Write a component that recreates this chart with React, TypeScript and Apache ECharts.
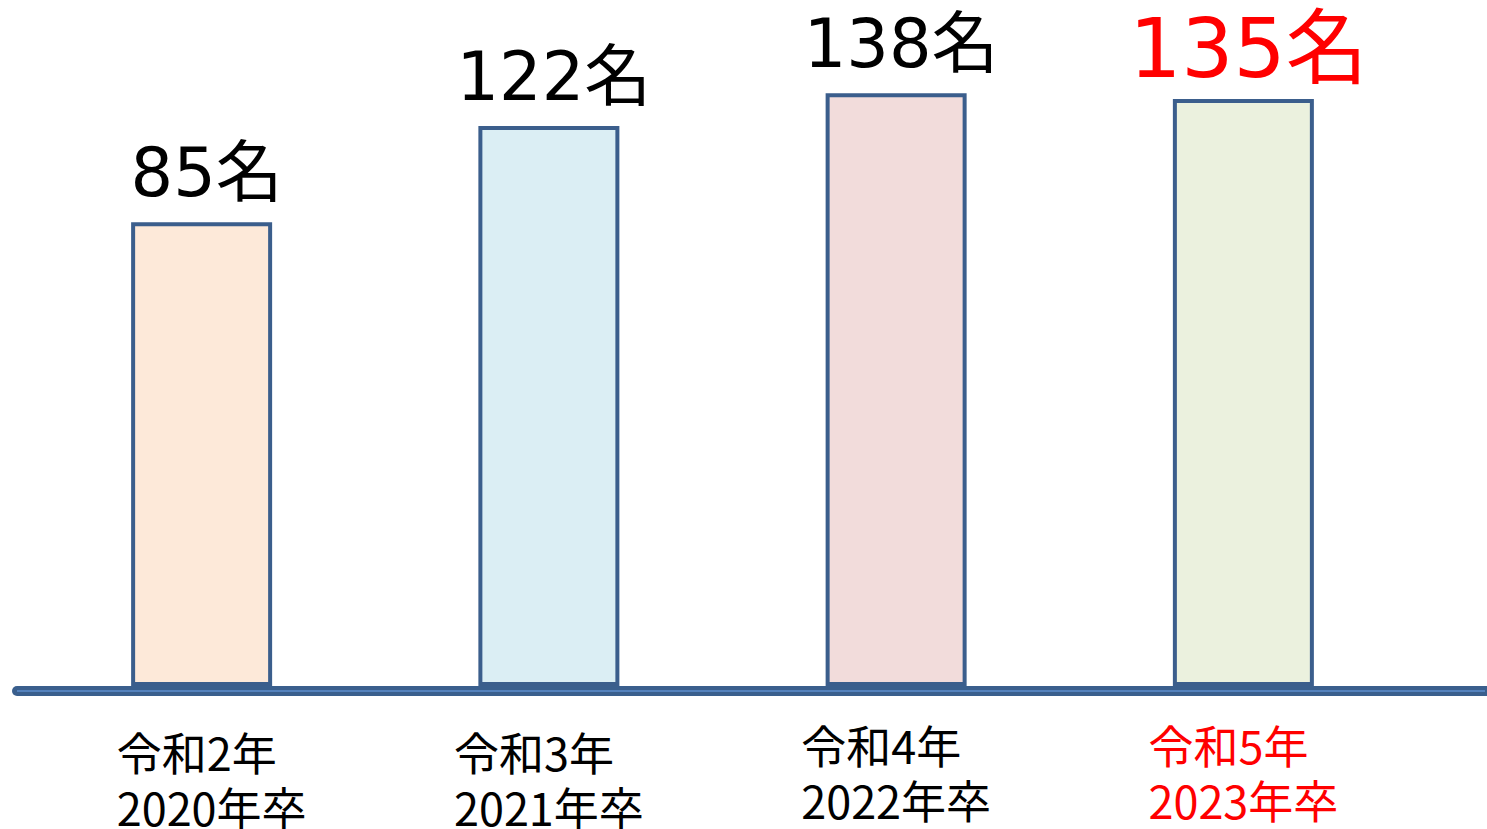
import { useEffect, useRef } from 'react';
import * as echarts from 'echarts';

// Graduating cohorts (Reiwa year / Western year) and number of graduates
const eraLabels = ['令和2年', '令和3年', '令和4年', '令和5年'];
const classLabels = ['2020年卒', '2021年卒', '2022年卒', '2023年卒'];
const graduates = [85, 122, 138, 135];
const unit = '名';

// Pastel fill for each cohort's bar; the latest cohort is highlighted in red text
const barFills = ['#FDE9D9', '#DBEEF4', '#F2DCDB', '#EBF1DE'];
const highlightIndex = 3;

export default function App() {
  const ref = useRef<HTMLDivElement>(null);

  useEffect(() => {
    if (!ref.current) return;
    const chart = echarts.init(ref.current, null, { renderer: 'svg' });
    const valueFont = '"DejaVu Sans", "Noto Sans CJK JP", sans-serif';
    const cjkFont = '"Noto Sans CJK JP", sans-serif';
    const labelStyle = (color: string) => ({
      fontSize: 45,
      lineHeight: 55,
      color,
      fontFamily: cjkFont,
      align: 'left',
    });

    const option = {
      animation: false,
      backgroundColor: '#ffffff',
      grid: { left: 28, right: 70, top: 71, bottom: 138 },
      xAxis: {
        type: 'category',
        data: eraLabels.map((e, i) => ({
          value: e + '\n' + classLabels[i],
          textStyle: i === 0 ? { padding: [7, 0, 0, 20] } : i === 1 ? { padding: [7, 0, 0, 0] } : {},
        })),
        axisLine: { show: false },
        axisTick: { show: false },
        axisLabel: {
          interval: 0,
          hideOverlap: false,
          margin: 33,
          formatter: (value: string, index: number) => {
            const [era, cls] = value.split('\n');
            const red = index === highlightIndex;
            return `{${red ? 'eraRed' : 'era'}|${era}}\n{${red ? 'clsRed' : 'cls'}|${cls}}`;
          },
          rich: {
            era: labelStyle('#000000'),
            cls: labelStyle('#000000'),
            eraRed: labelStyle('#FF0000'),
            clsRed: labelStyle('#FF0000'),
          },
        },
      },
      yAxis: { type: 'log', logBase: 10, min: 15, max: 150, show: false },
      // thick baseline across the full width, with a lighter inner stripe
      graphic: [
        {
          type: 'rect',
          left: 12,
          top: 686,
          z: 100,
          shape: { width: 1480, height: 10, r: 5 },
          style: { fill: '#3A5F8D' },
        },
        {
          type: 'rect',
          left: 17,
          top: 690,
          z: 101,
          shape: { width: 1468, height: 2 },
          style: { fill: '#5482BD' },
        },
      ],
      series: [
        {
          type: 'bar',
          barWidth: 141,
          clip: true,
          data: graduates.map((v, i) => ({
            value: v,
            itemStyle: { color: barFills[i] },
            label:
              i === highlightIndex
                ? { color: '#FF0000', fontSize: 82, distance: 10 }
                : undefined,
          })),
          itemStyle: { borderColor: '#3B5E8C', borderWidth: 4 },
          label: {
            show: true,
            position: 'top',
            distance: 16,
            offset: [5, 0],
            formatter: '{c}' + unit,
            fontSize: 67,
            color: '#000000',
            fontFamily: valueFont,
          },
        },
      ],
    };

    chart.setOption(option);
    return () => chart.dispose();
  }, []);

  return (
    <div
      ref={ref}
      style={{ position: 'fixed', left: 0, top: 0, width: 1487, height: 829, background: '#ffffff' }}
    />
  );
}
